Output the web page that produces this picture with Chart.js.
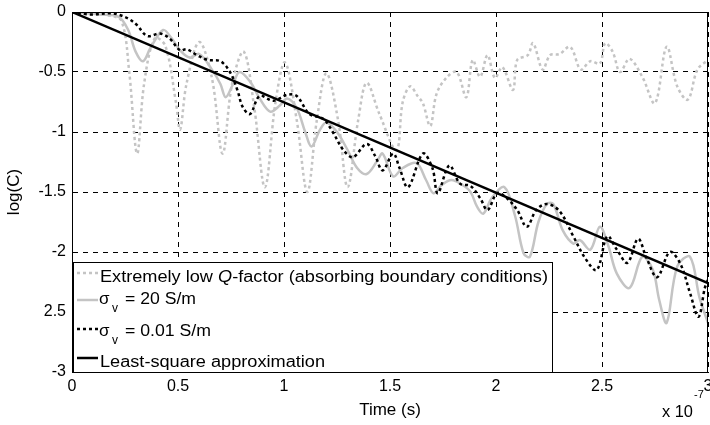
<!DOCTYPE html>
<html>
<head>
<meta charset="utf-8">
<script src="https://cdn.jsdelivr.net/npm/chart.js@4.4.0/dist/chart.umd.min.js"></script>
<style>
  html, body { margin: 0; padding: 0; background: #fff; }
  #wrap { position: relative; width: 710px; height: 425px; }
  #overlay { position: absolute; left: 0; top: 0; pointer-events: none; }
  #overlay text { font-family: "Liberation Sans", Arial, Helvetica, sans-serif; fill: #000; }
</style>
</head>
<body>
<div id="wrap">
  <canvas id="decay" width="710" height="425"></canvas>
  <svg id="overlay" width="710" height="425">
    <!-- legend box, MATLAB style -->
    <rect x="73.5" y="262.5" width="479" height="110" fill="#fff" stroke="#000" stroke-width="1"/>
    <line x1="77" y1="273" x2="98" y2="273" stroke="#c4c4c4" stroke-width="2.5" stroke-dasharray="3 3"/>
    <line x1="77" y1="300" x2="98" y2="300" stroke="#c4c4c4" stroke-width="2.5"/>
    <line x1="77" y1="329" x2="98" y2="329" stroke="#000" stroke-width="2.5" stroke-dasharray="3 3"/>
    <line x1="77" y1="358" x2="98" y2="358" stroke="#000" stroke-width="2.5"/>
    <text x="100" y="282" font-size="16" textLength="448" lengthAdjust="spacingAndGlyphs">Extremely low <tspan font-style="italic">Q</tspan>-factor (absorbing boundary conditions)</text>
    <text x="99" y="304" font-size="17">σ</text>
    <text x="112" y="312" font-size="12">v</text>
    <text x="125" y="304" font-size="16" textLength="71" lengthAdjust="spacingAndGlyphs">= 20 S/m</text>
    <text x="99" y="336" font-size="17">σ</text>
    <text x="112" y="344" font-size="12">v</text>
    <text x="125" y="336" font-size="16" textLength="86" lengthAdjust="spacingAndGlyphs">= 0.01 S/m</text>
    <text x="100" y="367" font-size="16" textLength="225" lengthAdjust="spacingAndGlyphs">Least-square approximation</text>
    <!-- axis multiplier -->
    <text x="662" y="417" font-size="16" textLength="31" lengthAdjust="spacingAndGlyphs">x 10</text>
    <text x="694" y="398" font-size="11">-7</text>
  </svg>
</div>
<script>
// time in units of 1e-7 s
const xTickValues = [0, 0.5, 1, 1.5, 2, 2.5, 3];
const xTickLabels = ['0', '0.5', '1', '1.5', '2', '2.5', '3'];
const yTickValues = [0, -0.5, -1, -1.5, -2, -2.5, -3];
const yTickLabels = ['0', '-0.5', '-1', '-1.5', '-2', '2.5', '-3'];

// extremely low Q-factor (absorbing boundary conditions)
const qTime = [
  0, 0.085, 0.18, 0.235, 0.27, 0.307, 0.34, 0.39, 0.44, 0.49,
  0.51, 0.54, 0.60, 0.66, 0.71, 0.755, 0.81, 0.86, 0.91, 0.96,
  1.005, 1.06, 1.11, 1.155, 1.20, 1.255, 1.30, 1.35, 1.39, 1.45,
  1.53, 1.56, 1.595, 1.63, 1.655, 1.69, 1.72, 1.77, 1.815, 1.86,
  1.89, 1.925, 1.96, 1.995, 2.03, 2.08, 2.10, 2.15, 2.175, 2.22,
  2.255, 2.30, 2.35, 2.40, 2.445, 2.49, 2.515, 2.55, 2.585, 2.63,
  2.69, 2.75, 2.805, 2.855, 2.905, 2.95, 3.0
];
const qLog = [
  0, -0.02, -0.03, -0.08, -0.5, -1.18, -0.6, -0.22, -0.28, -0.75,
  -0.98, -0.6, -0.25, -0.55, -1.18, -0.6, -0.33, -0.8, -1.46, -0.75,
  -0.42, -0.9, -1.5, -0.9, -0.51, -0.9, -1.46, -0.9, -0.59, -0.85,
  -1.15, -0.75, -0.62, -0.7, -0.76, -0.95, -0.68, -0.54, -0.5, -0.71,
  -0.4, -0.54, -0.36, -0.55, -0.46, -0.65, -0.4, -0.36, -0.26, -0.48,
  -0.36, -0.35, -0.29, -0.48, -0.41, -0.43, -0.26, -0.33, -0.5, -0.39,
  -0.54, -0.76, -0.29, -0.62, -0.73, -0.48, -0.4
];

// sigma_v = 20 S/m
const s20Time = [
  0, 0.13, 0.22, 0.265, 0.30, 0.335, 0.37, 0.43, 0.47, 0.51,
  0.555, 0.60, 0.66, 0.70, 0.725, 0.76, 0.79, 0.84, 0.885, 0.935,
  0.98, 1.015, 1.06, 1.10, 1.13, 1.17, 1.20, 1.25, 1.30, 1.345,
  1.39, 1.44, 1.465, 1.515, 1.56, 1.625, 1.67, 1.705, 1.745, 1.79,
  1.84, 1.88, 1.91, 1.94, 1.98, 2.04, 2.09, 2.13, 2.16, 2.20,
  2.24, 2.27, 2.315, 2.365, 2.395, 2.445, 2.49, 2.53, 2.57, 2.63,
  2.69, 2.74, 2.77, 2.805, 2.855, 2.915, 2.96, 3.0
];
const s20Log = [
  0, -0.02, -0.04, -0.15, -0.33, -0.41, -0.3, -0.15, -0.22, -0.32,
  -0.38, -0.35, -0.48, -0.6, -0.71, -0.6, -0.5, -0.58, -0.72, -0.83,
  -0.78, -0.72, -0.8, -1.0, -1.12, -0.98, -0.92, -1.0, -1.15, -1.3,
  -1.35, -1.24, -1.18, -1.37, -1.3, -1.26, -1.4, -1.51, -1.44, -1.4,
  -1.44, -1.5, -1.62, -1.68, -1.55, -1.46, -1.7, -2.01, -2.04, -1.75,
  -1.6, -1.6, -1.82, -1.93, -1.9, -1.98, -1.79, -1.95, -2.18, -2.3,
  -2.04, -2.15, -2.4, -2.59, -2.12, -2.04, -2.38, -2.59
];

// sigma_v = 0.01 S/m
const s001Time = [
  0, 0.085, 0.18, 0.225, 0.27, 0.307, 0.355, 0.415, 0.46, 0.51,
  0.54, 0.59, 0.64, 0.70, 0.745, 0.78, 0.805, 0.84, 0.885, 0.95,
  1.015, 1.06, 1.12, 1.185, 1.23, 1.28, 1.325, 1.39, 1.43, 1.465,
  1.515, 1.545, 1.585, 1.655, 1.70, 1.725, 1.78, 1.83, 1.88, 1.925,
  1.96, 2.005, 2.05, 2.10, 2.145, 2.19, 2.24, 2.30, 2.365, 2.42,
  2.475, 2.525, 2.57, 2.62, 2.67, 2.71, 2.76, 2.82, 2.87, 2.915,
  2.955, 2.985, 3.0
];
const s001Log = [
  0, -0.02, -0.01, -0.025, -0.06, -0.11, -0.2, -0.18, -0.22, -0.32,
  -0.31, -0.36, -0.4, -0.41, -0.5, -0.65, -0.79, -0.85, -0.7, -0.74,
  -0.69, -0.7, -0.85, -0.89, -1.0, -1.15, -1.21, -1.1, -1.2, -1.32,
  -1.18, -1.3, -1.46, -1.18, -1.3, -1.51, -1.28, -1.43, -1.45, -1.55,
  -1.65, -1.51, -1.55, -1.65, -1.79, -1.65, -1.6, -1.66, -1.87, -2.05,
  -2.15, -1.87, -1.98, -2.09, -1.89, -2.05, -2.21, -2.0, -2.1, -2.34,
  -2.54, -2.3, -2.23
];

// least-square approximation
const lsTime = [0, 3];
const lsLog = [0, -2.26];

const lightGray = '#c4c4c4';
const fontFamily = '"Liberation Sans", Arial, Helvetica, sans-serif';

function toPoints(xs, ys) {
  return xs.map((x, i) => ({ x: x, y: ys[i] }));
}

// full axes box like MATLAB
const boxPlugin = {
  id: 'axesBox',
  afterDatasetsDraw(chart) {
    const { ctx, chartArea } = chart;
    ctx.save();
    ctx.strokeStyle = '#000';
    ctx.lineWidth = 1;
    ctx.strokeRect(chartArea.left + 0.5, chartArea.top + 0.5,
      chartArea.right - chartArea.left - 1, chartArea.bottom - chartArea.top);
    ctx.restore();
  }
};

new Chart(document.getElementById('decay'), {
  type: 'line',
  data: {
    datasets: [{
      label: 'Extremely low Q-factor (absorbing boundary conditions)',
      data: toPoints(qTime, qLog),
      borderColor: lightGray,
      borderWidth: 2.5,
      borderDash: [3, 3],
      tension: 0.35,
      order: 4
    }, {
      label: 'sigma_v = 20 S/m',
      data: toPoints(s20Time, s20Log),
      borderColor: lightGray,
      borderWidth: 2.5,
      tension: 0.35,
      order: 3
    }, {
      label: 'sigma_v = 0.01 S/m',
      data: toPoints(s001Time, s001Log),
      borderColor: '#000',
      borderWidth: 2.5,
      borderDash: [3, 3],
      tension: 0.35,
      order: 2
    }, {
      label: 'Least-square approximation',
      data: toPoints(lsTime, lsLog),
      borderColor: '#000',
      borderWidth: 2.5,
      tension: 0,
      order: 1
    }]
  },
  options: {
    responsive: false,
    animation: false,
    devicePixelRatio: 1,
    layout: { padding: { top: 12, right: 2, left: 0, bottom: 0 } },
    elements: { point: { radius: 0 } },
    plugins: {
      legend: { display: false },
      tooltip: { enabled: false }
    },
    scales: {
      x: {
        type: 'linear',
        min: 0,
        max: 3,
        ticks: {
          stepSize: 0.5,
          color: '#000',
          padding: 5,
          maxRotation: 0,
          font: { size: 16, family: fontFamily },
          callback: (v) => {
            const i = xTickValues.indexOf(v);
            return i >= 0 ? xTickLabels[i] : '';
          }
        },
        grid: { color: '#000', lineWidth: 1, drawTicks: false },
        border: { color: '#000', width: 1, dash: [5, 5] },
        title: {
          display: true,
          text: 'Time (s)',
          color: '#000',
          font: { size: 17, family: fontFamily }
        },
        afterFit: (s) => {
          s.height = 53;
          s.paddingLeft = 0;
          s.paddingRight = 0;
        }
      },
      y: {
        type: 'linear',
        min: -3,
        max: 0,
        ticks: {
          stepSize: 0.5,
          color: '#000',
          padding: 6,
          font: { size: 16, family: fontFamily },
          callback: (v) => {
            const i = yTickValues.indexOf(v);
            return i >= 0 ? yTickLabels[i] : '';
          }
        },
        grid: { color: '#000', lineWidth: 1, drawTicks: false },
        border: { color: '#000', width: 1, dash: [5, 5] },
        title: {
          display: true,
          text: 'log(C)',
          color: '#000',
          font: { size: 17, family: fontFamily }
        },
        afterFit: (s) => {
          s.width = 72;
          s.paddingTop = 0;
          s.paddingBottom = 0;
        }
      }
    }
  },
  plugins: [boxPlugin]
});
</script>
</body>
</html>
